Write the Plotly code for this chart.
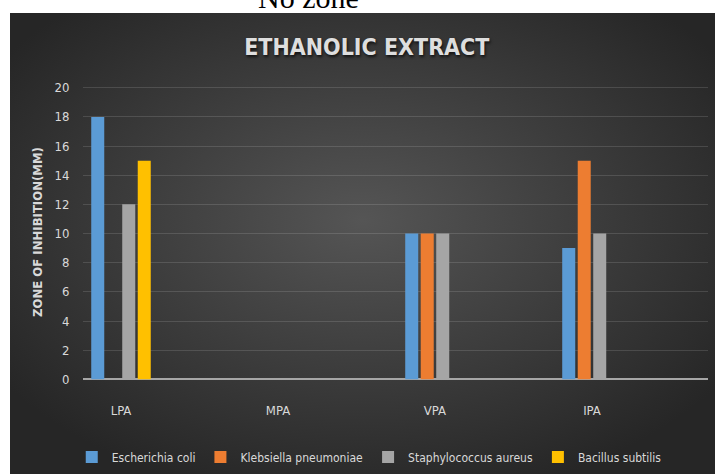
import base64
import plotly.graph_objects as go

# ---- data ----
categories = ["LPA", "MPA", "VPA", "IPA"]
escherichia_coli = [18, 0, 10, 9]
klebsiella_pneumoniae = [0, 0, 10, 15]
staphylococcus_aureus = [12, 0, 10, 10]
bacillus_subtilis = [15, 0, 0, 0]
series_names = ["Escherichia coli", "Klebsiella pneumoniae",
                "Staphylococcus aureus", "Bacillus subtilis"]
series_colors = ["#5B9BD5", "#ED7D31", "#A5A5A5", "#FFC000"]
y_ticks = [0, 2, 4, 6, 8, 10, 12, 14, 16, 18, 20]

FONT = "Liberation Sans Narrow, DejaVu Sans Condensed, Arial Narrow, sans-serif"
TXT = "#d9d9d9"

fig = go.Figure()
for name, vals, col in zip(series_names,
                           [escherichia_coli, klebsiella_pneumoniae,
                            staphylococcus_aureus, bacillus_subtilis],
                           series_colors):
    fig.add_trace(go.Bar(x=categories, y=vals, name=name,
                         marker=dict(color=col, line=dict(width=0))))

# radial gradient background (Excel style dark chart area)
svg = ('<svg xmlns="http://www.w3.org/2000/svg" width="705" height="461" '
       'viewBox="0 0 705 461" preserveAspectRatio="none"><defs>'
       '<radialGradient id="g" cx="50%" cy="45%" r="62%">'
       '<stop offset="0" stop-color="#555555"/>'
       '<stop offset="1" stop-color="#262626"/></radialGradient></defs>'
       '<rect width="705" height="461" fill="url(#g)"/></svg>')
src = "data:image/svg+xml;base64," + base64.b64encode(svg.encode()).decode()

fig.update_layout(
    width=715, height=474,
    margin=dict(l=83, r=7, t=80, b=90, autoexpand=False),
    paper_bgcolor="white",
    plot_bgcolor="rgba(0,0,0,0)",
    barmode="group", bargap=0.605, bargroupgap=0.16,
    font=dict(family=FONT, color=TXT, size=13),
    title=dict(text="<b>ETHANOLIC EXTRACT</b>", x=0.513, xref="container",
               y=1 - 47 / 474, yref="container", xanchor="center", yanchor="middle",
               font=dict(family=FONT, size=23, color="#dedede",
                         shadow="1px 2px 3px rgba(0,0,0,0.7)")),
    images=[dict(source=src, xref="paper", yref="paper",
                 x=(10 - 83) / 625, y=(384 - 13) / 304,
                 sizex=(715 - 10) / 625, sizey=(474 - 13) / 304,
                 xanchor="left", yanchor="top", sizing="stretch", layer="below")],
    legend=dict(orientation="h", x=0.458, xanchor="center", y=-0.24, yanchor="middle",
                font=dict(family=FONT, size=12, color=TXT),
                bgcolor="rgba(0,0,0,0)", traceorder="normal"),
    showlegend=True,
)
fig.update_xaxes(type="category", range=[-0.242, 3.739], showgrid=False,
                 showline=False, zeroline=False,
                 ticks="outside", ticklen=14, tickcolor="rgba(0,0,0,0)",
                 tickfont=dict(family=FONT, size=13, color=TXT))
fig.update_yaxes(range=[-0.32, 20.53], tickvals=y_ticks, showgrid=True,
                 gridcolor="rgba(255,255,255,0.13)", gridwidth=1,
                 zeroline=True, zerolinecolor="#a6a6a6", zerolinewidth=1.5,
                 showline=False, ticks="outside", ticklen=10,
                 tickcolor="rgba(0,0,0,0)",
                 tickfont=dict(family=FONT, size=13, color=TXT),
                 title=dict(text="<b>ZONE OF INHIBITION(MM)</b>", standoff=8,
                            font=dict(family=FONT, size=13, color=TXT)))

fig.add_annotation(text="No zone", xref="paper", yref="paper",
                   x=(308 - 83) / 625, y=(384 + 2.5) / 304,
                   xanchor="center", yanchor="middle", showarrow=False,
                   font=dict(family="Liberation Serif, Times New Roman, serif",
                             size=30, color="black"))

fig.write_html("out.html")
